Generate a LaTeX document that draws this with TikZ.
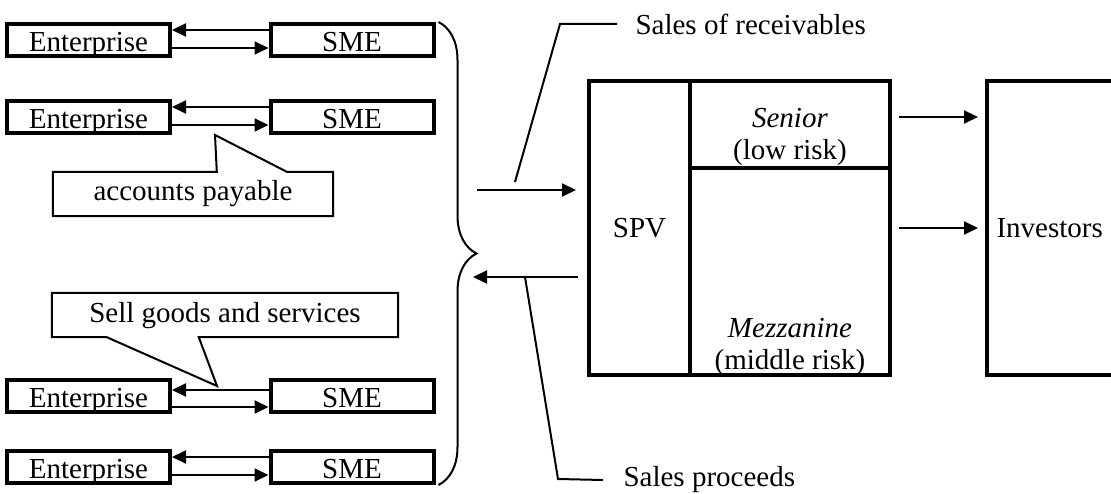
\documentclass[tikz,border=0pt]{standalone}
\usepackage{fontspec}
\setmainfont{Liberation Serif}
\usetikzlibrary{arrows.meta,decorations.pathreplacing}
\begin{document}
\begin{tikzpicture}[x=1pt,y=-1pt,
    every node/.style={font=\fontsize{29}{32}\selectfont},
    firm/.style={draw,line width=4pt,minimum width=163pt,minimum height=32pt,inner sep=0pt,text height=25pt,text depth=2pt},
    tranche/.style={draw,line width=4pt,inner sep=0pt},
    flow/.style={line width=2pt,-{Triangle[length=14pt,width=13pt]}},
    leader/.style={line width=2pt}]
    \useasboundingbox (0,0) rectangle (1111,494);
    % enterprises and SMEs
    \foreach \i/\y/\a/\b in {1/40/10/8,2/117/10/8,3/396/6/11,4/467/10/8}{
        \node[firm] (ent\i) at (88.5,\y) {Enterprise};
        \node[firm] (sme\i) at (352,\y) {SME};
        \draw[flow] ([yshift=\a pt]sme\i.west) -- ([yshift=\a pt]ent\i.east);
        \draw[flow] ([yshift=-\b pt]ent\i.east) -- ([yshift=-\b pt]sme\i.west);
    }
    % callouts
    \node[minimum width=280pt,minimum height=41pt,inner sep=0pt] (ap) at (193,194) {accounts payable};
    \coordinate (apt) at (215,135);
    \draw[leader] ([yshift=1.5pt]ap.north west) -- ([xshift=164pt,yshift=1.5pt]ap.north west) -- (apt) -- ([xshift=234pt,yshift=1.5pt]ap.north west)
        -- ([yshift=1.5pt]ap.north east) -- ([yshift=-1.5pt]ap.south east) -- ([yshift=-1.5pt]ap.south west) -- cycle;
    \node[minimum width=346pt,minimum height=44pt,inner sep=0pt] (sg) at (225,316) {Sell goods and services};
    \coordinate (sgt) at (217,386);
    \draw[leader] ([yshift=1pt]sg.north west) -- ([yshift=1pt]sg.north east) -- ([yshift=1pt]sg.south east) -- ([xshift=147pt,yshift=1pt]sg.south west)
        -- (sgt) -- ([xshift=55pt,yshift=1pt]sg.south west) -- ([yshift=1pt]sg.south west) -- cycle;
    \draw[leader,decorate,decoration={brace,amplitude=38pt}] ([xshift=3pt]sme1.north east) -- ([xshift=3pt]sme4.south east);
    % SPV and tranches
    \node[tranche,minimum width=101pt,minimum height=294pt] (spv) at (639.5,228) {SPV};
    \node[tranche,minimum width=200pt,minimum height=87pt] (senior) at (790,124.5) {};
    \node[tranche,minimum width=200pt,minimum height=207pt] (mezz) at (790,271.5) {};
    \node[align=center] at ([yshift=33pt]senior.south) {\textit{Senior}\\(low risk)};
    \node[align=center] at ([yshift=30pt]mezz.south) {\textit{Mezzanine}\\(middle risk)};
    \node[tranche,minimum width=153pt,minimum height=294pt] (inv) at (1063.5,228) {};
    \node[anchor=west] at ([xshift=8pt]inv.west) {Investors};
    \draw[flow,shorten <=7pt,shorten >=7pt] ([yshift=7.5pt]senior.east) -- ([yshift=7.5pt]senior.east -| inv.west);
    \draw[flow,shorten <=7pt,shorten >=7pt] (inv.west -| mezz.east) -- (inv.west);
    % flows between SMEs and SPV
    \coordinate (recv) at (477,190);
    \coordinate (proc) at (473,277);
    \draw[flow,shorten >=11pt] (recv) -- (recv -| spv.west);
    \draw[flow,shorten <=9pt] (proc -| spv.west) -- (proc);
    \node[anchor=west] (sor) at (632,24) {Sales of receivables};
    \node[anchor=west] (sp) at (620,480) {Sales proceeds};
    \coordinate (sorf) at (515,182);
    \coordinate (spf) at (525,277);
    \draw[leader] (sorf) -- (560,24) -- ([xshift=-15pt]sor.west);
    \draw[leader] (spf) -- (558,479) -- ([xshift=-17pt]sp.west);
\end{tikzpicture}
\end{document}
